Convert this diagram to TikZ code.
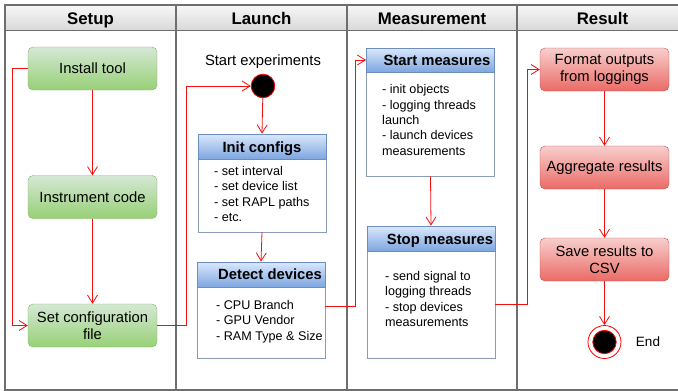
\documentclass[tikz,border=0pt]{standalone}
\usepackage{fontspec}
\setmainfont{Liberation Sans}
\usetikzlibrary{arrows.meta,calc}
\definecolor{frameC}{HTML}{6E6E6E}
\definecolor{gTop}{HTML}{D5E8D4}
\definecolor{gBot}{HTML}{97D077}
\definecolor{gLine}{HTML}{82B366}
\definecolor{bTop}{HTML}{DAE8FC}
\definecolor{bBot}{HTML}{7EA6E0}
\definecolor{bLine}{HTML}{6C8EBF}
\definecolor{bBody}{HTML}{8A9BBB}
\definecolor{rTop}{HTML}{F8CECC}
\definecolor{rBot}{HTML}{EA6B66}
\definecolor{rLine}{HTML}{B85450}
\definecolor{arrC}{HTML}{F01010}
\tikzset{
  lanetitle/.style={font=\fontsize{16.8}{18}\selectfont\bfseries, inner sep=0pt, anchor=base},
  actbox/.style={minimum width=129pt, minimum height=43pt, rounded corners=5pt, align=center,
     font=\fontsize{14.8}{17.5}\selectfont, inner sep=0pt},
  greenbox/.style={actbox, draw=gLine, top color=gTop, bottom color=gBot},
  redbox/.style={actbox, draw=rLine, top color=rTop, bottom color=rBot},
  classbody/.style={draw=bBody, fill=white, minimum width=128pt, inner sep=0pt, line width=0.9pt},
  classhead/.style={draw=bLine, top color=bTop, bottom color=bBot, minimum width=128pt,
     minimum height=25pt, inner sep=0pt, anchor=north, line width=0.9pt},
  headtext/.style={font=\fontsize{14.8}{17}\selectfont\bfseries, inner sep=0pt, anchor=base},
  bodytext/.style={font=\fontsize{12.6}{15.4}\selectfont, align=left, anchor=west, inner sep=0pt},
  plain/.style={font=\fontsize{14.8}{17}\selectfont, inner sep=0pt},
  arr/.style={draw=arrC, line width=0.8pt, -{Straight Barb[length=8pt,width=10pt]}},
}
\begin{document}
\begin{tikzpicture}[x=1pt,y=-1pt]
\useasboundingbox (0,0) rectangle (678,391);
% header band
\shade[top color=gray!6, bottom color=gray!30] (5,5) rectangle (690,30);
\draw[frameC, line width=1.3pt] (690,5) -- (5,5) -- (5,390) -- (690,390);
\draw[frameC, line width=1pt] (5,30) -- (690,30);
\foreach \x in {176,347,517} \draw[frameC, line width=1.1pt] (\x,5) -- (\x,390);
\node[lanetitle] (tsetup) at (90.5,24.5) {Setup};
\node[lanetitle] (tlaunch) at (261.5,24.5) {Launch};
\node[lanetitle] (tmeas) at (432,24.5) {Measurement};
\node[lanetitle] (tres) at (602.5,24.5) {Result};

% Setup lane
\node[greenbox] (install) at (92.5,68.5) {Install tool};
\node[greenbox] (instr) at (92.5,197) {Instrument code};
\node[greenbox] (setcfg) at (92.5,325.5) {Set configuration\\file};

% Launch lane
\node[plain] (starttxt) at (263,62) {Start experiments};
\node[circle, draw=red, fill=black, minimum size=23.6pt, inner sep=0pt, line width=0.8pt] (start) at (263,86) {};

\node[classbody, minimum height=98pt] (init) at (262,183) {};
\node[classhead] (inith) at (init.north) {};
\node[headtext] (initt) at (262,152) {Init configs};
\node[bodytext] (initb) at (214,194) {- set interval\\- set device list\\- set RAPL paths\\- etc.};

\node[classbody, minimum height=96pt] (detect) at (261,310) {};
\node[classhead] (detecth) at (detect.north) {};
\node[headtext] (detectt) at (270,279.5) {Detect devices};
\node[bodytext] (detectb) at (216,321.5) {- CPU Branch\\- GPU Vendor\\- RAM Type \& Size};

% Measurement lane
\node[classbody, minimum height=128pt] (startm) at (430.5,112) {};
\node[classhead, minimum height=24pt] (startmh) at (startm.north) {};
\node[headtext] (startmt) at (437,65.5) {Start measures};
\node[bodytext] (startmb) at (382,120) {- init objects\\- logging threads\\launch\\- launch devices\\measurements};

\node[classbody, minimum height=132pt] (stopm) at (431,292) {};
\node[classhead] (stopmh) at (stopm.north) {};
\node[headtext] (stopmt) at (440,244) {Stop measures};
\node[bodytext] (stopmb) at (385,299) {- send signal to\\logging threads\\- stop devices\\measurements};

% Result lane
\node[redbox] (format) at (604.5,69.5) {Format outputs\\from loggings};
\node[redbox] (aggr) at (604.5,167.5) {Aggregate results};
\node[redbox] (save) at (604.5,259.5) {Save results to\\CSV};
\node[circle, draw=red, fill=white, minimum size=33pt, inner sep=0pt, line width=0.8pt] (endo) at (604.5,342) {};
\node[circle, draw=red, fill=black, minimum size=23.4pt, inner sep=0pt, line width=0.8pt] (endi) at (endo.center) {};
\node[plain, font=\fontsize{13.5}{16}\selectfont] (endtxt) at (648,342) {End};

% connectors
\draw[arr] (install) -- (instr);
\draw[arr] (instr) -- (setcfg);
\draw[arr] (install.west) -- ++(-15,0) |- (setcfg.west);
\draw[arr] (setcfg.east) -- ++(29,0) |- (start.west);
\draw[arr] (start) -- (inith.north);
\draw[arr] (init.south) -- (detecth.north);
\draw[arr] ([yshift=4pt]detect.east) -- ++(30,0) |- (startmh.west);
\draw[arr] (startm.south) -- (stopmh.north);
\draw[arr] ([yshift=-12pt]stopm.east) -- ++(32,0) |- (format.west);
\draw[arr] (format) -- (aggr);
\draw[arr] (aggr) -- (save);
\draw[arr] (save) -- (endo.north);
\end{tikzpicture}
\end{document}
